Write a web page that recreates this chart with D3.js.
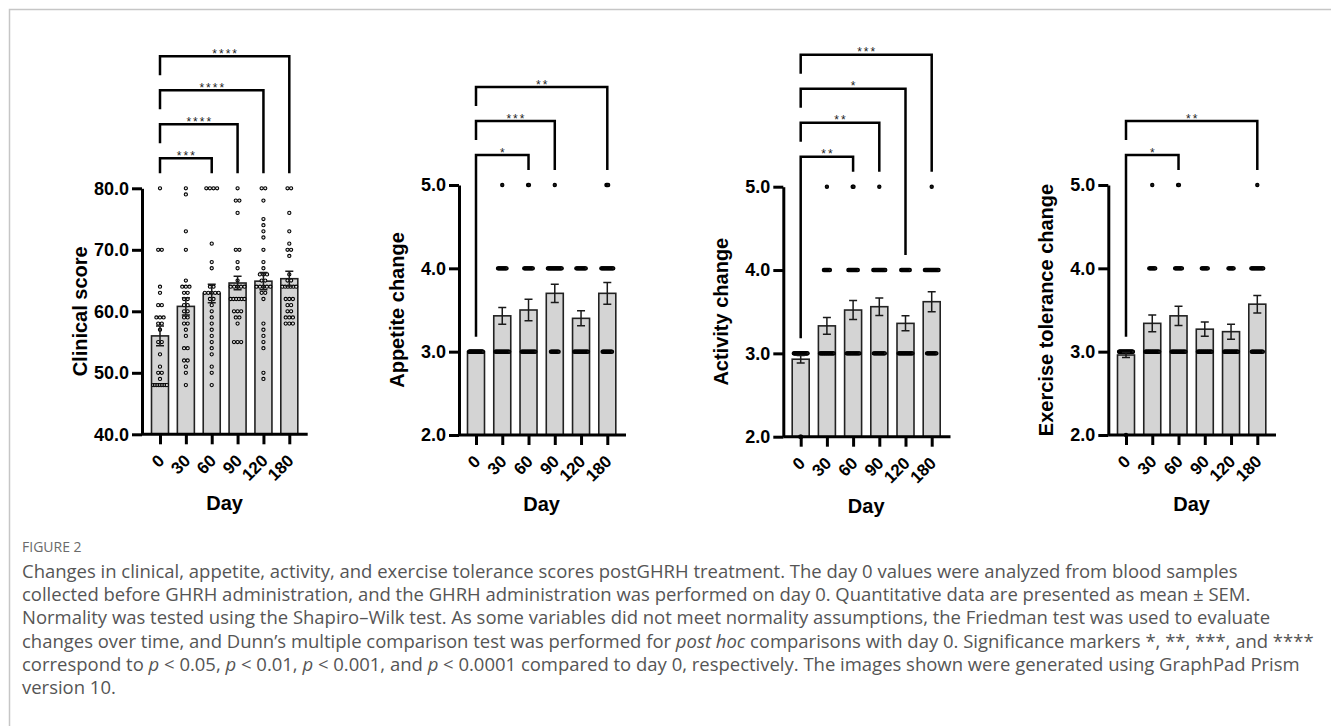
<!DOCTYPE html>
<html><head><meta charset="utf-8">
<script src="https://cdn.jsdelivr.net/npm/d3@7"></script>
<style>
html,body{margin:0;padding:0;background:#fff;}
svg{display:block;}
</style></head>
<body>
<svg id="chart" width="1331" height="726"></svg>
<script>
// ---------------- DATA ----------------
const days = ["0", "30", "60", "90", "120", "180"];

// Clinical score
const clinicalMean = [56.0, 60.8, 62.9, 64.6, 64.9, 65.3];
const clinicalSEM  = [1.6, 1.4, 1.5, 1.1, 1.4, 1.2];
const clinicalDay0   = [80, 70, 70, 64, 63, 61, 61, 59, 59, 59, 58, 58, 57, 55, 55, 53, 51, 50, 50, 49, 48, 48, 48, 48, 48, 48, 48, 48, 48];
const clinicalDay30  = [80, 79, 73, 70, 65, 64, 64, 64, 63, 63, 62, 62, 61, 61, 60, 60, 59, 59, 58, 58, 57, 56, 54, 54, 52, 52, 51, 50, 48];
const clinicalDay60  = [80, 80, 80, 80, 71, 68, 67, 64, 64, 63, 63, 63, 63, 63, 62, 62, 61, 60, 59, 58, 57, 56, 55, 54, 53, 51, 50, 48];
const clinicalDay90  = [80, 78, 78, 76, 70, 70, 68, 67, 65, 64, 64, 64, 64, 64, 62, 62, 62, 62, 62, 62, 60, 60, 60, 59, 59, 58, 55, 55, 55];
const clinicalDay120 = [80, 80, 78, 75, 74, 73, 72, 70, 68, 67, 66, 66, 66, 65, 65, 64, 64, 64, 64, 64, 63, 63, 62, 58, 57, 56, 55, 54, 50, 49];
const clinicalDay180 = [80, 80, 76, 73, 71, 70, 70, 69, 66, 65, 65, 64, 64, 64, 64, 64, 64, 62, 62, 62, 61, 61, 60, 60, 59, 59, 59, 58, 58, 58];
const clinicalTicks = [40, 50, 60, 70, 80];
const clinicalSig = [[2, "***"], [3, "****"], [4, "****"], [5, "****"]];

// Appetite change (counts of animals scoring 2 / 3 / 4 / 5)
const appetiteMean = [3.00, 3.43, 3.50, 3.70, 3.40, 3.70];
const appetiteSEM  = [0.00, 0.10, 0.13, 0.11, 0.09, 0.13];
const appetiteN2 = [0, 0, 0, 0, 0, 0];
const appetiteN3 = [30, 18, 17, 10, 18, 12];
const appetiteN4 = [0, 11, 11, 19, 12, 15];
const appetiteN5 = [0, 1, 2, 1, 0, 3];
const appetiteSig = [[2, "*"], [3, "***"], [5, "**"]];

// Activity change
const activityMean = [2.93, 3.33, 3.52, 3.56, 3.36, 3.62];
const activitySEM  = [0.045, 0.10, 0.115, 0.105, 0.09, 0.12];
const activityN2 = [2, 0, 0, 0, 0, 0];
const activityN3 = [28, 21, 16, 14, 19, 12];
const activityN4 = [0, 8, 12, 15, 11, 17];
const activityN5 = [0, 1, 2, 1, 0, 1];
const activitySig = [[2, "**"], [3, "**"], [4, "*"], [5, "***"]];

// Exercise tolerance change
const exerciseMean = [2.96, 3.34, 3.43, 3.27, 3.24, 3.57];
const exerciseSEM  = [0.03, 0.10, 0.115, 0.085, 0.09, 0.105];
const exerciseN2 = [1, 0, 0, 0, 0, 0];
const exerciseN3 = [29, 21, 19, 22, 23, 14];
const exerciseN4 = [0, 8, 9, 8, 7, 15];
const exerciseN5 = [0, 1, 2, 0, 0, 1];
const exerciseSig = [[2, "*"], [5, "**"]];

const changeTicks = [2, 3, 4, 5];

// ---------------- HELPERS ----------------
function fromCounts(n2, n3, n4, n5) {
  return days.map((_, i) => [].concat(
    Array(n2[i]).fill(2), Array(n3[i]).fill(3), Array(n4[i]).fill(4), Array(n5[i]).fill(5)));
}

const panels = [
  {title: "Clinical score", axisX: 142, yTop: 188.3, yBot: 434.3, domain: [40, 80], ticks: clinicalTicks,
   barFirst: 160, barLast: 289.3, axisEnd: 307.7, mean: clinicalMean, sem: clinicalSEM,
   points: [clinicalDay0, clinicalDay30, clinicalDay60, clinicalDay90, clinicalDay120, clinicalDay180],
   sig: clinicalSig, s0: 3.6, r: 1.6, fill: "#e8e8e8", sw: 1.1},
  {title: "Appetite change", axisX: 459, yTop: 185, yBot: 435, domain: [2, 5], ticks: changeTicks,
   barFirst: 476, barLast: 607.3, axisEnd: 626, mean: appetiteMean, sem: appetiteSEM,
   points: fromCounts(appetiteN2, appetiteN3, appetiteN4, appetiteN5), sig: appetiteSig,
   s0: 0.85, r: 1.6, fill: "#1a1a1a", sw: 1.2},
  {title: "Activity change", axisX: 783.3, yTop: 186.7, yBot: 436.7, domain: [2, 5], ticks: changeTicks,
   barFirst: 800.7, barLast: 931.7, axisEnd: 950.5, mean: activityMean, sem: activitySEM,
   points: fromCounts(activityN2, activityN3, activityN4, activityN5), sig: activitySig,
   s0: 0.85, r: 1.6, fill: "#1a1a1a", sw: 1.2},
  {title: "Exercise tolerance change", axisX: 1108.3, yTop: 185, yBot: 435, domain: [2, 5], ticks: changeTicks,
   barFirst: 1126, barLast: 1257.3, axisEnd: 1276, mean: exerciseMean, sem: exerciseSEM,
   points: fromCounts(exerciseN2, exerciseN3, exerciseN4, exerciseN5), sig: exerciseSig,
   s0: 0.85, r: 1.6, fill: "#1a1a1a", sw: 1.2}
];

const FONT = "'Liberation Sans', Arial, Helvetica, sans-serif";
const svg = d3.select("#chart");

// frame
svg.append("path").attr("d", "M9.5,726V9.5H1331")
  .attr("fill", "none").attr("stroke", "#c6c6c6").attr("stroke-width", 1.5);

function spread(values, s0, W, d) {
  const out = [];
  d3.groups(values, v => v).forEach(([v, arr]) => {
    const n = arr.length;
    const s = n > 1 ? Math.min(s0, (W - d) / (n - 1)) : 0;
    arr.forEach((_, i) => out.push({v, dx: (i - (n - 1) / 2) * s}));
  });
  return out;
}

panels.forEach(p => {
  const g = svg.append("g").attr("font-family", FONT);
  const y = d3.scaleLinear().domain(p.domain).range([p.yBot, p.yTop]);
  const x = d3.scalePoint().domain(days).range([p.barFirst, p.barLast]);
  const bw = 17;

  // bars
  g.append("g").selectAll("rect").data(p.mean).join("rect")
    .attr("x", (d, i) => x(days[i]) - bw / 2)
    .attr("y", d => y(d))
    .attr("width", bw)
    .attr("height", d => y(p.domain[0]) - y(d))
    .attr("fill", "#d4d4d4").attr("stroke", "#222").attr("stroke-width", 1.6);

  // points
  const pg = g.append("g");
  p.points.forEach((vals, i) => {
    pg.append("g").selectAll("circle").data(spread(vals, p.s0, 18, 4.2)).join("circle")
      .attr("cx", d => x(days[i]) + d.dx)
      .attr("cy", d => y(d.v))
      .attr("r", p.r)
      .attr("fill", p.fill).attr("stroke", "#000").attr("stroke-width", p.sw);
  });

  // error bars
  const eg = g.append("g").attr("stroke", "#1a1a1a").attr("stroke-width", 1.5).attr("fill", "none");
  p.mean.forEach((m, i) => {
    const s = p.sem[i];
    if (s <= 0) return;
    const cx = x(days[i]);
    eg.append("path").attr("d",
      `M${cx},${y(m - s)}V${y(m + s)}M${cx - 4},${y(m + s)}H${cx + 4}M${cx - 4},${y(m - s)}H${cx + 4}`);
  });

  // y axis
  const ya = g.append("g").attr("transform", `translate(${p.axisX},0)`)
    .call(d3.axisLeft(y).tickValues(p.ticks).tickFormat(d3.format(".1f")).tickSize(10).tickSizeOuter(0).tickPadding(3));
  ya.select(".domain").attr("stroke-width", 3);
  ya.selectAll(".tick line").attr("stroke-width", 3);
  ya.selectAll(".tick text").attr("font-size", 18).attr("font-weight", "bold").attr("fill", "#000")
    .attr("font-family", FONT);

  // x axis
  const xa = g.append("g").attr("transform", `translate(0,${p.yBot})`)
    .call(d3.axisBottom(x).tickSize(10).tickSizeOuter(0));
  xa.select(".domain").attr("d", `M${p.axisX},0H${p.axisEnd}`).attr("stroke-width", 3);
  xa.selectAll(".tick line").attr("stroke-width", 3);
  xa.selectAll(".tick text")
    .attr("font-size", 17).attr("font-weight", "bold").attr("fill", "#000").attr("font-family", FONT)
    .attr("text-anchor", "end").attr("dy", null).attr("y", null)
    .attr("transform", "translate(5,27.5) rotate(-45)");

  // axis titles
  g.append("text").text(p.title)
    .attr("transform", `translate(${p.axisX - 55},${(p.yTop + p.yBot) / 2}) rotate(-90)`)
    .attr("text-anchor", "middle").attr("font-size", 20).attr("font-weight", "bold");
  g.append("text").text("Day")
    .attr("x", (p.barFirst + p.barLast) / 2).attr("y", p.yBot + 76)
    .attr("text-anchor", "middle").attr("font-size", 20).attr("font-weight", "bold");

  // significance brackets
  const base = p.yTop - 30;
  const colMax = p.points.map(v => d3.max(v));
  const bg = g.append("g");
  p.sig.forEach(([j, label], k) => {
    const ly = base - 34 * k;
    const x0 = x(days[0]), x1 = x(days[j]);
    const leftEnd = k === 0 ? y(colMax[0]) - 15 : (base - 34 * (k - 1)) - 15;
    const rightEnd = y(colMax[j]) - 15;
    bg.append("path").attr("d", `M${x0},${leftEnd}V${ly}H${x1}V${rightEnd}`)
      .attr("fill", "none").attr("stroke", "#000").attr("stroke-width", 2.5);
    bg.append("text").text(label)
      .attr("x", (x0 + x1) / 2 + 1).attr("y", ly + 1.5)
      .attr("text-anchor", "middle").attr("font-size", 12).attr("letter-spacing", 2).attr("fill", "#222");
  });
});

// ---------------- CAPTION ----------------
const cap = svg.append("g").attr("font-family", "'Open Sans', 'Noto Sans', sans-serif").attr("fill", "#555");
cap.append("text").text("FIGURE 2").attr("x", 22).attr("y", 552).attr("font-size", 14).attr("fill", "#6a6a6a");

const capLines = [
  [["Changes in clinical, appetite, activity, and exercise tolerance scores postGHRH treatment. The day 0 values were analyzed from blood samples", false]],
  [["collected before GHRH administration, and the GHRH administration was performed on day 0. Quantitative data are presented as mean \u00b1 SEM.", false]],
  [["Normality was tested using the Shapiro\u2013Wilk test. As some variables did not meet normality assumptions, the Friedman test was used to evaluate", false]],
  [["changes over time, and Dunn\u2019s multiple comparison test was performed for ", false], ["post hoc", true], [" comparisons with day 0. Significance markers *, **, ***, and ****", false]],
  [["correspond to ", false], ["p", true], [" < 0.05, ", false], ["p", true], [" < 0.01, ", false], ["p", true], [" < 0.001, and ", false], ["p", true], [" < 0.0001 compared to day 0, respectively. The images shown were generated using GraphPad Prism", false]],
  [["version 10.", false]]
];
const lineNodes = capLines.map((parts, li) => {
  const t = cap.append("text").attr("x", 22).attr("y", 578 + li * 23.2).attr("font-size", 16);
  parts.forEach(([s, it]) => t.append("tspan").text(s).attr("font-style", it ? "italic" : "normal"));
  return t;
});
const w = lineNodes[0].node().getComputedTextLength();
const fs = 16 * (1216 / w);
lineNodes.forEach(t => t.attr("font-size", fs));
</script>
</body></html>
